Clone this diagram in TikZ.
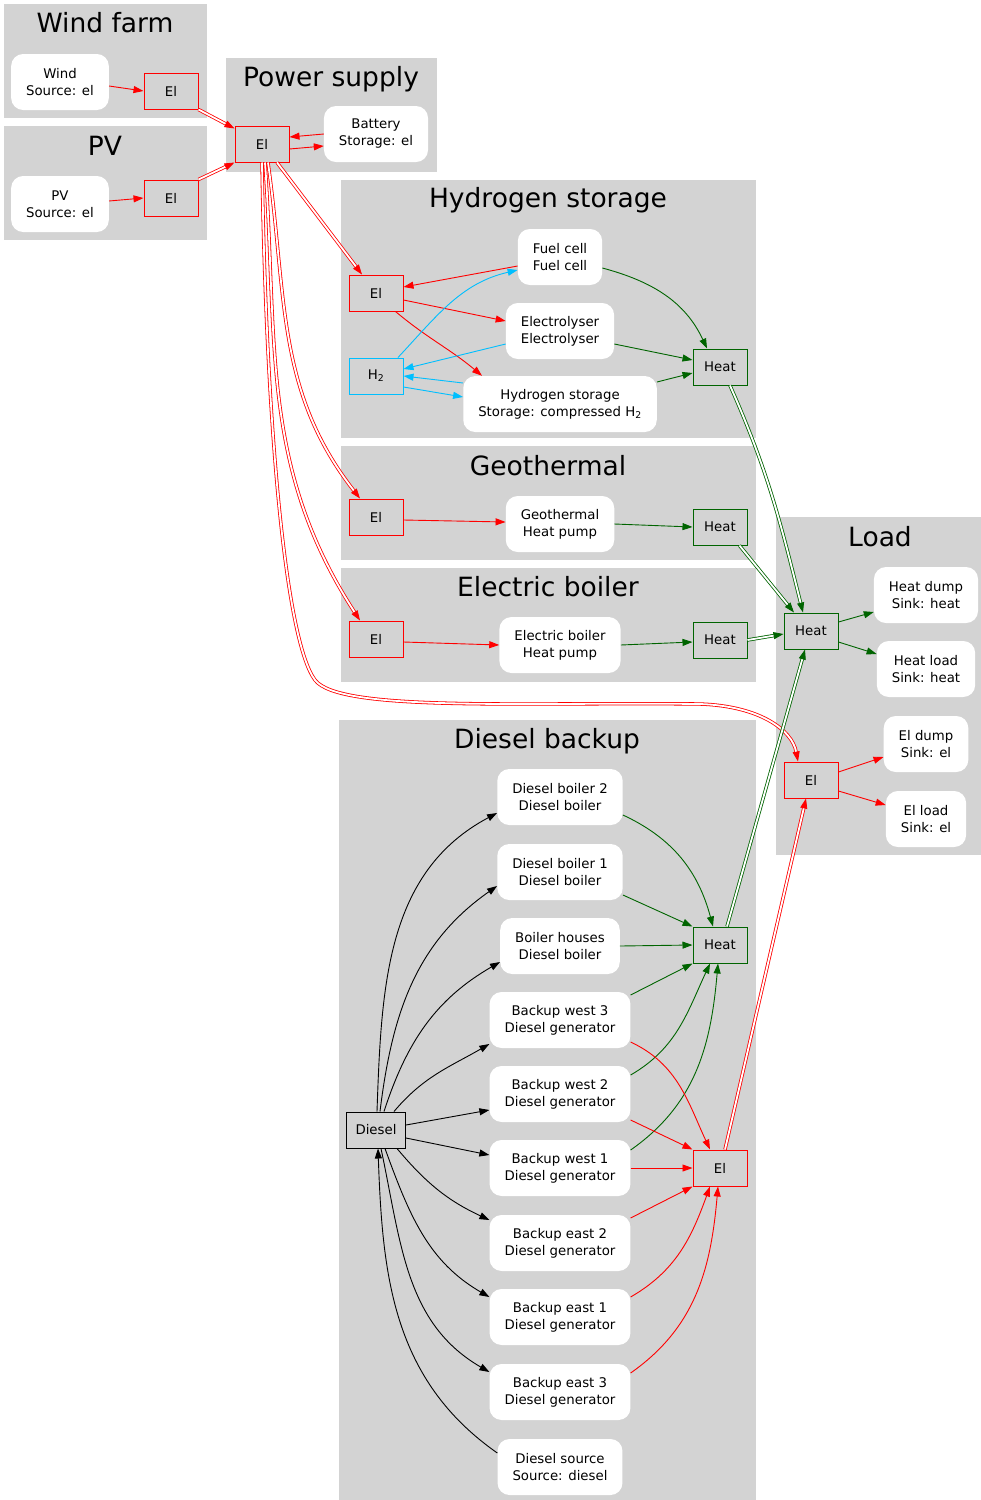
\documentclass[tikz,border=0pt]{standalone}
\usepackage{fontspec}
\setmainfont{DejaVu Sans}
\usetikzlibrary{arrows.meta}

\definecolor{clgray}{HTML}{D3D3D3}
\definecolor{elred}{HTML}{FF0000}
\definecolor{heatgreen}{HTML}{006400}
\definecolor{h2blue}{HTML}{00BFFF}

\begin{document}
\begin{tikzpicture}[
    x=1pt, y=-1pt,
    >={Triangle[length=10pt,width=7pt]},
    cluster/.style={fill=clgray},
    title/.style={anchor=base, font=\fontsize{26.5}{30}\selectfont},
    proc/.style={fill=white, rounded corners=12pt, align=center, minimum height=56pt, inner xsep=15pt, font=\fontsize{13.3}{17}\selectfont},
    bus/.style={draw, fill=clgray, line width=1pt, minimum width=54pt, minimum height=36pt, font=\fontsize{13.3}{17}\selectfont},
    elflow/.style={->, draw=elred, line width=0.9pt},
    heatflow/.style={->, draw=heatgreen, line width=0.9pt},
    h2flow/.style={->, draw=h2blue, line width=0.9pt},
    dflow/.style={->, draw=black, line width=0.9pt},
    twin/.style={double=white, double distance=1.8pt, line width=0.8pt}
]
\useasboundingbox (0,0) rectangle (981,1500);

% Clusters
\fill[cluster] (4,4) rectangle (207,118);
\fill[cluster] (4,126) rectangle (207,240);
\fill[cluster] (226,58) rectangle (437,172);
\fill[cluster] (341,180) rectangle (756,438);
\fill[cluster] (341,446) rectangle (756,560);
\fill[cluster] (341,568) rectangle (756,682);
\fill[cluster] (776,517) rectangle (981,855);
\fill[cluster] (339,720) rectangle (756,1500);

\node[title] (twind) at (105,32) {Wind farm};
\node[title] (tpv) at (105,155) {PV};
\node[title] (tpower) at (331,86) {Power supply};
\node[title] (thyd) at (548,207) {Hydrogen storage};
\node[title] (tgeo) at (548,475) {Geothermal};
\node[title] (tboil) at (548,596) {Electric boiler};
\node[title] (tload) at (880,546) {Load};
\node[title] (tdiesel) at (547,748) {Diesel backup};

% Wind farm and PV
\node[proc] (wind) at (60,82) {Wind\\Source: el};
\node[bus, draw=elred] (elw) at (171,91) {El};
\node[proc] (pv) at (60,204) {PV\\Source: el};
\node[bus, draw=elred] (elpv) at (171,198) {El};

% Power supply
\node[bus, draw=elred] (elps) at (262,144) {El};
\node[proc] (battery) at (376,134) {Battery\\Storage: el};

% Hydrogen storage
\node[bus, draw=elred] (elh) at (376,293) {El};
\node[bus, draw=h2blue] (htwo) at (376,376) {H\textsubscript{2}};
\node[proc] (fuelcell) at (560,257) {Fuel cell\\Fuel cell};
\node[proc] (electrolyser) at (560,331) {Electrolyser\\Electrolyser};
\node[proc] (hstore) at (560,404) {Hydrogen storage\\Storage: compressed H\textsubscript{2}};
\node[bus, draw=heatgreen] (heath) at (720,367) {Heat};

% Geothermal
\node[bus, draw=elred] (elg) at (376,517) {El};
\node[proc] (geohp) at (560,524) {Geothermal\\Heat pump};
\node[bus, draw=heatgreen] (heatg) at (720,527) {Heat};

% Electric boiler
\node[bus, draw=elred] (elb) at (376,639) {El};
\node[proc] (boilerhp) at (560,645) {Electric boiler\\Heat pump};
\node[bus, draw=heatgreen] (heatb) at (720,640) {Heat};

% Load
\node[bus, draw=heatgreen] (heatl) at (811,631) {Heat};
\node[proc] (heatdump) at (926,595) {Heat dump\\Sink: heat};
\node[proc] (heatload) at (926,669) {Heat load\\Sink: heat};
\node[bus, draw=elred] (ell) at (811,780) {El};
\node[proc] (eldump) at (926,744) {El dump\\Sink: el};
\node[proc] (elload) at (926,819) {El load\\Sink: el};

% Diesel backup
\node[bus, draw=black, minimum width=59pt] (diesel) at (376,1130) {Diesel};
\node[proc] (dboil2) at (560,797) {Diesel boiler 2\\Diesel boiler};
\node[proc] (dboil1) at (560,872) {Diesel boiler 1\\Diesel boiler};
\node[proc] (bhouses) at (560,946) {Boiler houses\\Diesel boiler};
\node[proc] (west3) at (560,1020) {Backup west 3\\Diesel generator};
\node[proc] (west2) at (560,1094) {Backup west 2\\Diesel generator};
\node[proc] (west1) at (560,1168) {Backup west 1\\Diesel generator};
\node[proc] (east2) at (560,1243) {Backup east 2\\Diesel generator};
\node[proc] (east1) at (560,1317) {Backup east 1\\Diesel generator};
\node[proc] (east3) at (560,1392) {Backup east 3\\Diesel generator};
\node[proc] (dsource) at (560,1467) {Diesel source\\Source: diesel};
\node[bus, draw=heatgreen] (heatd) at (720,945) {Heat};
\node[bus, draw=elred] (eld) at (720,1168) {El};

% Sources into the supply bus
\draw[elflow] ([yshift=-4pt]wind.east) -- (elw.west);
\draw[elflow] ([yshift=3pt]pv.east) -- (elpv.west);
\draw[elflow, twin] (elw.south east) -- ([yshift=-3pt]elps.north west);
\draw[elflow, twin] (elpv.north east) -- (elps.south west);
\draw[elflow] (battery.west) -- ([yshift=7pt]elps.east);
\draw[elflow] ([yshift=-5pt]elps.east) -- ([yshift=-12pt]battery.west);

% Supply bus to the sites
\draw[elflow, twin] ([xshift=15pt]elps.south) -- ([xshift=-14pt]elh.north);
\draw[elflow, twin] ([xshift=6pt]elps.south) to[out=-82,in=128] ([xshift=-16pt]elg.north);
\draw[elflow, twin] ([xshift=3pt]elps.south) to[out=-86,in=123] ([xshift=-16pt]elb.north);
\draw[elflow, twin] (elps.south) .. controls (266,420) and (285,640) .. (315,680)
    .. controls (339,712) and (520,702) .. (700,704)
    .. controls (760,706) and (792,730) .. ([xshift=-13pt]ell.north);

% Hydrogen storage
\draw[elflow] ([yshift=-9pt]fuelcell.west) -- ([yshift=6pt]elh.east);
\draw[elflow] ([yshift=-7pt]elh.east) -- ([yshift=10pt]electrolyser.west);
\draw[elflow] ([xshift=-8pt]elh.south east) to[out=-40,in=140] ([xshift=-78pt]hstore.north);
\draw[h2flow] ([xshift=22pt]htwo.north) to[out=47,in=193] ([yshift=-13pt]fuelcell.west);
\draw[h2flow] ([yshift=-13pt]electrolyser.west) -- ([yshift=7pt]htwo.east);
\draw[h2flow] ([yshift=21pt]hstore.west) -- (htwo.east);
\draw[h2flow] ([yshift=-11pt]htwo.east) -- ([yshift=7pt]hstore.west);
\draw[heatflow] ([yshift=-11pt]fuelcell.east) to[out=-15,in=115] ([xshift=-13pt]heath.north);
\draw[heatflow] ([yshift=-13pt]electrolyser.east) -- ([yshift=7pt]heath.west);
\draw[heatflow] ([yshift=22pt]hstore.east) -- ([yshift=-6pt]heath.west);

% Geothermal and electric boiler
\draw[elflow] ([yshift=-3pt]elg.east) -- ([yshift=2pt]geohp.west);
\draw[heatflow] (geohp.east) -- (heatg.west);
\draw[elflow] ([yshift=-3pt]elb.east) -- (boilerhp.west);
\draw[heatflow] (boilerhp.east) -- ([yshift=-2pt]heatb.west);

% Load
\draw[heatflow, twin] ([xshift=10pt]heath.south) to[out=-66,in=104] ([xshift=-8pt]heatl.north);
\draw[heatflow, twin] ([xshift=-8pt]heatg.south east) -- ([xshift=-17pt]heatl.north);
\draw[heatflow, twin] (heatb.east) -- ([yshift=-3pt]heatl.west);
\draw[heatflow] ([yshift=9pt]heatl.east) -- ([yshift=-17pt]heatdump.west);
\draw[heatflow] ([yshift=-11pt]heatl.east) -- ([yshift=15pt]heatload.west);
\draw[elflow] ([yshift=8pt]ell.east) -- ([yshift=-13pt]eldump.west);
\draw[elflow] ([yshift=-11pt]ell.east) -- ([yshift=14pt]elload.west);

% Diesel backup: fuel
\draw[dflow] ([xshift=1pt]diesel.north) to[out=88,in=208] ([yshift=-16pt]dboil2.west);
\draw[dflow] ([xshift=4pt]diesel.north) to[out=83,in=215] ([yshift=-14pt]dboil1.west);
\draw[dflow] ([xshift=8pt]diesel.north) to[out=72,in=210] ([yshift=-16pt]bhouses.west);
\draw[dflow] ([xshift=18pt]diesel.north) to[out=50,in=210] ([yshift=-24pt]west3.west);
\draw[dflow] ([yshift=5pt]diesel.east) -- ([yshift=-16pt]west2.west);
\draw[dflow] ([yshift=-8pt]diesel.east) -- ([yshift=13pt]west1.west);
\draw[dflow] ([xshift=21pt]diesel.south) to[out=-50,in=155] ([yshift=23pt]east2.west);
\draw[dflow] ([xshift=9pt]diesel.south) to[out=-70,in=150] ([yshift=20pt]east1.west);
\draw[dflow] ([xshift=5pt]diesel.south) to[out=-78,in=150] ([yshift=20pt]east3.west);
\draw[dflow] ([yshift=14pt]dsource.west) to[out=145,in=-88] ([xshift=2pt]diesel.south);

% Diesel backup: heat
\draw[heatflow] ([yshift=-18pt]dboil2.east) to[out=-25,in=105] ([xshift=-7pt]heatd.north);
\draw[heatflow] ([yshift=-23pt]dboil1.east) -- (heatd.north west);
\draw[heatflow] (bhouses.east) -- (heatd.west);
\draw[heatflow] ([yshift=25pt]west3.east) -- (heatd.south west);
\draw[heatflow] ([yshift=19pt]west2.east) to[out=30,in=-115] ([xshift=-10pt]heatd.south);
\draw[heatflow] ([yshift=18pt]west1.east) to[out=35,in=-95] ([xshift=-2pt]heatd.south);

% Diesel backup: electricity
\draw[elflow] ([yshift=-22pt]west3.east) to[out=-25,in=115] ([xshift=-10pt]eld.north);
\draw[elflow] ([yshift=-26pt]west2.east) -- (eld.north west);
\draw[elflow] (west1.east) -- (eld.west);
\draw[elflow] ([yshift=25pt]east2.east) -- (eld.south west);
\draw[elflow] ([yshift=20pt]east1.east) to[out=30,in=-110] ([xshift=-10pt]eld.south);
\draw[elflow] ([yshift=19pt]east3.east) to[out=35,in=-95] ([xshift=-2pt]eld.south);

% Diesel backup to load
\draw[heatflow, twin] ([xshift=7pt]heatd.north) -- ([xshift=-6pt]heatl.south);
\draw[elflow, twin] ([xshift=5pt]eld.north) -- ([xshift=-5pt]ell.south);
\end{tikzpicture}
\end{document}
